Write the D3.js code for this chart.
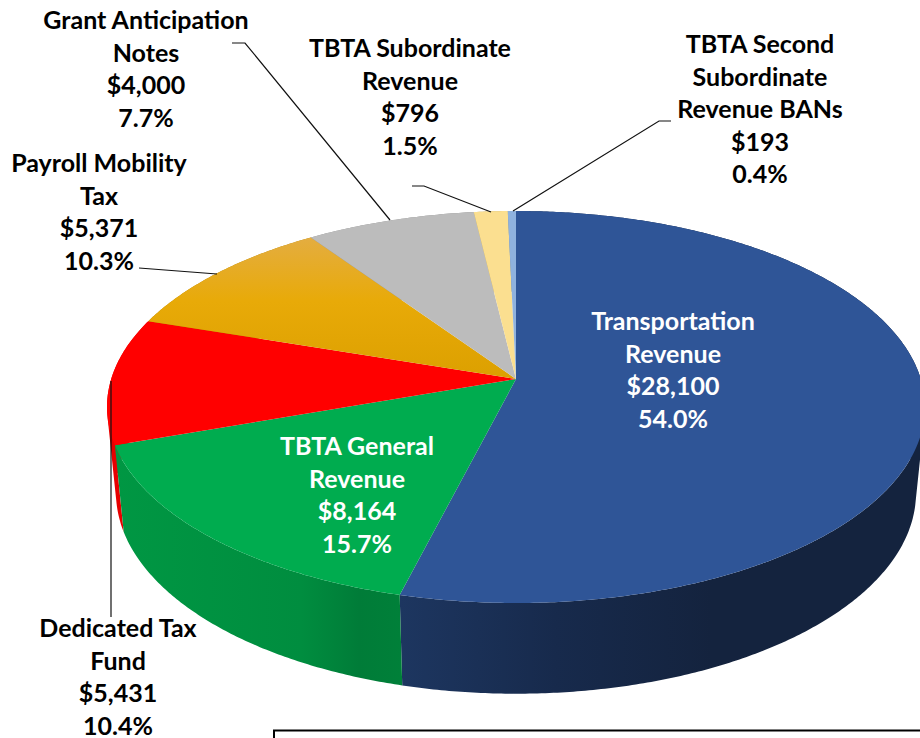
<!DOCTYPE html>
<html>
<head>
<meta charset="utf-8">
<script src="https://cdn.jsdelivr.net/npm/d3@7"></script>
<style>
html,body{margin:0;padding:0;background:#fff;overflow:hidden}
svg{display:block}
text{font-family:Lato,"Open Sans",sans-serif;font-weight:700;font-size:25px;text-anchor:middle}
</style>
</head>
<body>
<svg id="chart" width="920" height="738"></svg>
<script>
// ---- data ----
const categories = [
  ["Transportation","Revenue"],
  ["TBTA General","Revenue"],
  ["Dedicated Tax","Fund"],
  ["Payroll Mobility","Tax"],
  ["Grant Anticipation","Notes"],
  ["TBTA Subordinate","Revenue"],
  ["TBTA Second","Subordinate","Revenue BANs"]
];
const values = [28100, 8164, 5431, 5371, 4000, 796, 193];
const percents = ["54.0%","15.7%","10.4%","10.3%","7.7%","1.5%","0.4%"];

// ---- styling and layout ----
const topColors = ["#2f5597","#00ac4f","#ff0000","url(#gOrange)","#bcbcbc","#fbdf90","#8fb2de"];
const sideColors = ["url(#gBlue)","url(#gGreen)","#e80000","#b08000","#8e8e8e","#c0a860","#6a88ae"];
const labelColors = ["#fff","#fff","#000","#000","#000","#000","#000"];
const labelX = [673,357,118,99,146,410,760];
const labelY = [330,455,637,172,29,57,53];
const lineStep = 32.5;
const leaders = [
  [[232,43],[245,43],[390,220]],
  [[412,186],[424,186],[491,212]],
  [[671,121],[659,121],[513,211]],
  [[139,268],[217,274]],
  [[111,381],[111,617]]
];

// perspective disc: unit circle mapped through a homography
const persp = -1/7;
const planes = {
  top:    {cx:516, cy:379, a:404.8, b:192},
  bottom: {cx:516, cy:464, a:395.9, b:196.9}
};
function project(angle, plane){
  const p = planes[plane], u = Math.sin(angle), v = -Math.cos(angle), w = 1 + persp*v;
  return [p.cx + p.a*u/w, p.cy + p.b*v/w];
}
function sample(a0,a1){
  const n = Math.max(2, Math.ceil((a1-a0)/(Math.PI/360)));
  return d3.range(n+1).map(i => a0+(a1-a0)*i/n);
}
// side wall: one consistently wound quad per angular step, so the silhouette is fully covered
function wallPath(a0,a1){
  const as = sample(a0,a1);
  return as.slice(1).map((a,i)=>{
    let q = [project(as[i],"top"),project(a,"top"),project(a,"bottom"),project(as[i],"bottom")];
    if (d3.polygonArea(q) < 0) q = q.reverse();
    return line(q)+"Z";
  }).join("");
}

const svg = d3.select("#chart");
const defs = svg.append("defs");
function gradient(id, attrs, stops){
  const g = defs.append("linearGradient").attr("id",id).attr("gradientUnits","userSpaceOnUse");
  Object.entries(attrs).forEach(([k,v])=>g.attr(k,v));
  stops.forEach(([o,c])=>g.append("stop").attr("offset",o).attr("stop-color",c));
}
gradient("gBlue",{x1:400,y1:0,x2:920,y2:0},[[0,"#1d3660"],[0.3,"#172a4c"],[0.6,"#14233e"],[1,"#14233e"]]);
gradient("gGreen",{x1:115,y1:0,x2:402,y2:0},[[0,"#009743"],[0.65,"#008d3f"],[0.85,"#007c38"],[1,"#008039"]]);
gradient("gOrange",{x1:0,y1:238,x2:0,y2:379},[[0,"#e4ad40"],[0.45,"#e8aa08"],[1,"#dca000"]]);

const arcs = d3.pie().sort(null).value(d=>d)(values);
const line = d3.line();

// sides, back slices first so the front ones overlap
const order = [4,3,5,6,2,0,1];
svg.append("g").selectAll("path").data(order.map(i=>arcs[i])).join("path")
  .attr("d", d=>wallPath(d.startAngle,d.endAngle))
  .attr("fill", d=>sideColors[d.index]);

// top surface
const apex = [planes.top.cx, planes.top.cy];
svg.append("g").selectAll("path").data(arcs).join("path")
  .attr("d", d=>line([apex].concat(sample(d.startAngle,d.endAngle).map(a=>project(a,"top"))))+"Z")
  .attr("fill", d=>topColors[d.index]);

// leader lines
svg.append("g").selectAll("path").data(leaders).join("path")
  .attr("d", d=>line(d)).attr("fill","none").attr("stroke","#111").attr("stroke-width",1.2);

// labels
const labels = svg.append("g").selectAll("text").data(arcs).join("text")
  .attr("fill", d=>labelColors[d.index]);
labels.each(function(d){
  const i = d.index;
  const rows = categories[i].concat(["$"+d3.format(",")(values[i]), percents[i]]);
  d3.select(this).selectAll("tspan").data(rows).join("tspan")
    .attr("x", labelX[i])
    .attr("y", (r,k)=>labelY[i]+k*lineStep)
    .text(r=>r);
});

// top edge of the text box that follows the chart
svg.append("rect").attr("x",274).attr("y",730.5).attr("width",700).attr("height",60)
  .attr("fill","#fff").attr("stroke","#000").attr("stroke-width",2);
</script>
</body>
</html>
